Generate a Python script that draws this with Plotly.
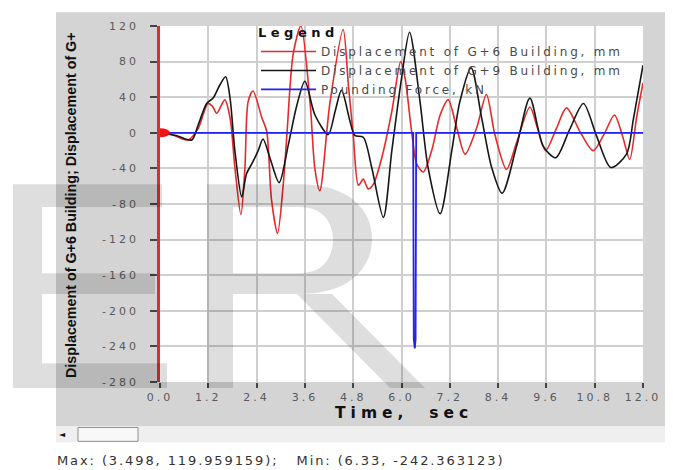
import plotly.graph_objects as go

# ---------------- data ----------------
t_g6 = [0.00, 0.35, 0.70, 0.95, 1.19, 1.30, 1.41, 1.61, 1.74, 1.86, 2.01, 2.11, 2.19, 2.31,
        2.53, 2.65, 2.77, 2.92, 3.06, 3.15, 3.31, 3.50, 3.73, 3.85, 3.97, 4.22, 4.55, 4.68,
        4.80, 4.93, 5.05, 5.17, 5.30, 5.51, 5.76, 5.98, 6.09, 6.25, 6.38, 6.54, 6.75, 6.96,
        7.16, 7.37, 7.58, 7.87, 8.11, 8.32, 8.61, 8.86, 9.19, 9.38, 9.58, 9.85, 10.10, 10.45,
        10.76, 11.05, 11.29, 11.50, 11.67, 11.84, 12.00]
d_g6 = [0, -3, -8, 5, 33, 30, 22, 37, 17, -39, -92, -39, 35, 47,
        17, 2, -75, -113, -59, -4, 89, 120, 33, -41, -65, 33, 116, 54,
        -2, -59, -52, -63, -58, -28, 24, 80, 61, 2, -35, -44, -20, 20,
        37, 6, -24, 6, 43, -2, -41, -11, 29, 5, -20, 5, 28, 0,
        -20, 0, 20, -5, -30, 17, 56]

t_g9 = [0.00, 0.40, 0.79, 0.95, 1.16, 1.32, 1.49, 1.63, 1.74, 1.86, 2.03, 2.15, 2.28, 2.44,
        2.56, 2.73, 2.96, 3.19, 3.40, 3.60, 3.85, 4.18, 4.35, 4.51, 4.72, 4.84, 5.05, 5.26,
        5.55, 5.76, 6.00, 6.20, 6.46, 6.66, 6.96, 7.25, 7.45, 7.73, 7.99, 8.24, 8.50, 8.86,
        9.19, 9.52, 9.83, 10.18, 10.52, 10.85, 11.20, 11.59, 11.76, 12.00]
d_g9 = [0, -3, -8, 9, 33, 39, 54, 63, 39, -20, -72, -46, -35, -20,
        -7, -28, -56, -13, 31, 58, 20, -2, 24, 48, 13, -3, -5, -39,
        -95, -20, 61, 113, 35, -39, -91, -20, 35, 73, 17, -39, -68, -15,
        39, -15, -28, 4, 33, -4, -39, -24, 15, 76]

t_force = [0.00, 6.29, 6.305, 6.33, 6.35, 6.365, 12.00]
f_force = [0, 0, -232, -242.363123, -232, 0, 0]

series_names = ["Displacement of G+6 Building, mm",
                "Displacement of G+9 Building, mm",
                "Pounding Force, kN"]

x_tick_vals = [0.0, 1.2, 2.4, 3.6, 4.8, 6.0, 7.2, 8.4, 9.6, 10.8, 12.0]
x_tick_labels = ["0.0", "1.2", "2.4", "3.6", "4.8", "6.0", "7.2", "8.4", "9.6", "10.8", "12.0"]
y_tick_vals = [120, 80, 40, 0, -40, -80, -120, -160, -200, -240, -280]
y_tick_labels = ["120", "80", "40", "0", "-40", "-80", "-120", "-160", "-200", "-240", "-280"]

y_title = "Displacement of G+6 Building; Displacement of G+"
x_title = "Time,  sec"
status_text = "Max: (3.498, 119.959159);   Min: (6.33, -242.363123)"

# ---------------- layout helpers ----------------
# the page body adds an 8 px offset, so the figure is 8 px smaller than the window
OFF = 8
W, H = 673 - OFF, 470 - OFF
L, R, T, B = 160, 643, 22, 382   # plot area in window pixels


def px(x):
    return (x - L) / (R - L)


def py(y):
    return (B - y) / (B - T)


def sp(text, ls):
    return f'<span style="letter-spacing:{ls}px">{text}</span>'


RED = "#e42a2a"
fig = go.Figure()
fig.add_trace(go.Scatter(x=t_g6, y=d_g6, mode="lines", name=sp(series_names[0], 2.8),
                         line=dict(color=RED, width=1.6, shape="spline", smoothing=0.8)))
fig.add_trace(go.Scatter(x=t_g9, y=d_g9, mode="lines", name=sp(series_names[1], 2.8),
                         line=dict(color="#161616", width=1.6, shape="spline", smoothing=0.8)))
fig.add_trace(go.Scatter(x=t_force, y=f_force, mode="lines", name=sp(series_names[2], 2.8),
                         line=dict(color="#2222f0", width=1.8)))

shapes = []
# gray frame and white plot area
shapes.append(dict(type="rect", xref="paper", yref="paper", layer="below",
                   x0=px(56), x1=px(680), y0=py(427), y1=py(8),
                   fillcolor="#d4d4d4", line=dict(width=0)))
shapes.append(dict(type="rect", xref="paper", yref="paper", layer="below",
                   x0=0, x1=1, y0=0, y1=1, fillcolor="white", line=dict(width=0)))
# scrollbar band and thumb
shapes.append(dict(type="rect", xref="paper", yref="paper", layer="below",
                   x0=px(56), x1=px(680), y0=py(443), y1=py(427),
                   fillcolor="#efefef", line=dict(width=0)))
shapes.append(dict(type="rect", xref="paper", yref="paper", layer="below",
                   x0=px(78), x1=px(138), y0=py(442), y1=py(428),
                   fillcolor="#f8f8f8", line=dict(color="#8f8f8f", width=1)))

# red ellipse marking the origin point
shapes.append(dict(type="circle", xref="x", yref="y", layer="above",
                   xsizemode="pixel", ysizemode="pixel",
                   xanchor=t_g6[0], yanchor=d_g6[0], x0=-10, x1=10, y0=-4.5, y1=4.5,
                   fillcolor="#f01515", line=dict(width=0)))


def rect_path(x0, y0, x1, y1):
    return (f"M{px(x0)},{py(y0)} L{px(x1)},{py(y0)} L{px(x1)},{py(y1)} "
            f"L{px(x0)},{py(y1)} Z")


WM = "rgba(0,0,0,0.13)"
wm_paths = [
    rect_path(13, 182, 42, 388),
    rect_path(42, 182, 162, 205),
    rect_path(42, 272, 155, 293),
    rect_path(42, 363, 167, 388),
    rect_path(207, 182, 233, 388),
    (f"M{px(233)},{py(182)} L{px(300)},{py(182)} "
     f"C{px(348)},{py(182)} {px(372)},{py(207)} {px(372)},{py(237)} "
     f"C{px(372)},{py(268)} {px(348)},{py(293)} {px(300)},{py(293)} "
     f"L{px(233)},{py(293)} Z "
     f"M{px(233)},{py(205)} L{px(233)},{py(272)} L{px(300)},{py(272)} "
     f"C{px(322)},{py(272)} {px(333)},{py(257)} {px(333)},{py(238)} "
     f"C{px(333)},{py(220)} {px(322)},{py(205)} {px(300)},{py(205)} Z"),
    (f"M{px(297)},{py(293)} L{px(332)},{py(293)} L{px(425)},{py(388)} "
     f"L{px(390)},{py(388)} Z"),
]
for p in wm_paths:
    shapes.append(dict(type="path", xref="paper", yref="paper", layer="above",
                       path=p, fillcolor=WM, line=dict(width=0)))

annotations = [
    dict(text="<b>" + sp(y_title, 0) + "</b>", textangle=-90, xref="paper", yref="paper",
         x=px(71), y=py(203), xanchor="center", yanchor="middle", showarrow=False,
         font=dict(family="Liberation Sans Narrow, Arial Narrow, sans-serif", size=14.3,
                   color="#111111")),
    dict(text="<b>" + sp(x_title, 5) + "</b>", xref="paper", yref="paper",
         x=px(404), y=py(413), xanchor="center", yanchor="middle", showarrow=False,
         font=dict(family="DejaVu Sans", size=15.5, color="#111111")),
    dict(text=sp(status_text, 1.9), xref="paper", yref="paper",
         x=px(55), y=py(461), xanchor="left", yanchor="middle", showarrow=False,
         font=dict(family="DejaVu Sans", size=13, color="#333333")),
    dict(text="◄", xref="paper", yref="paper",
         x=px(62), y=py(435), xanchor="center", yanchor="middle", showarrow=False,
         font=dict(family="DejaVu Sans", size=8, color="#111111")),
]

tickfont = dict(family="DejaVu Sans", size=11, color="#5a5a5a")
fig.update_layout(
    width=W, height=H,
    margin=dict(l=L - OFF, r=673 - R, t=T - OFF, b=470 - B, pad=0),
    paper_bgcolor="white", plot_bgcolor="white",
    shapes=shapes, annotations=annotations,
    showlegend=True,
    legend=dict(x=px(256), y=py(16), xanchor="left", yanchor="top",
                bgcolor="rgba(0,0,0,0)", borderwidth=0,
                font=dict(family="DejaVu Sans", size=12, color="#4a4a4a"),
                title=dict(text="<b>" + sp("Legend", 4.5) + "</b>",
                           font=dict(family="DejaVu Sans", size=13, color="#111111")),
                itemwidth=55, tracegroupgap=0),
    xaxis=dict(range=[0, 12], tickmode="array", tickvals=x_tick_vals,
               ticktext=[sp(s, 3) for s in x_tick_labels],
               showgrid=True, gridcolor="#cfcfcf", gridwidth=1.5, zeroline=False,
               showline=False, ticks="outside", ticklen=5, tickwidth=2, tickcolor="#444444",
               tickfont=tickfont),
    yaxis=dict(range=[-280, 120], tickmode="array", tickvals=y_tick_vals,
               ticktext=[sp(s, 3) for s in y_tick_labels],
               showgrid=True, gridcolor="#cfcfcf", gridwidth=1.5, zeroline=False,
               showline=True, linecolor=RED, linewidth=2.5,
               ticks="outside", ticklen=7, tickwidth=1.5, tickcolor="#444444",
               ticklabelstandoff=9, tickfont=tickfont),
)

fig.write_html("out.html")
